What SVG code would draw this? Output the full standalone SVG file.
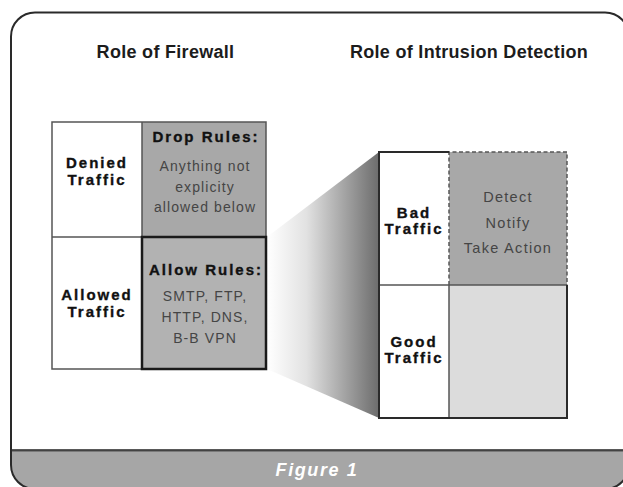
<svg xmlns="http://www.w3.org/2000/svg" width="623" height="487" viewBox="0 0 623 487">
  <defs>
    <style>
      .title { font-family: "Liberation Sans", Arial, sans-serif; font-size: 18px; font-weight: bold; fill: #1c1c1c; text-anchor: middle; letter-spacing: 0.3px; }
      .label { font-family: "Liberation Sans", Arial, sans-serif; font-size: 15px; font-weight: bold; fill: #111; stroke: #111; stroke-width: 0.35px; text-anchor: middle; letter-spacing: 2px; }
      .note { font-family: "Liberation Sans", Arial, sans-serif; font-size: 14px; fill: #454545; text-anchor: middle; letter-spacing: 1.1px; }
      .note.big { font-size: 14.5px; letter-spacing: 1.3px; }
      .caption { font-family: "Liberation Sans", Arial, sans-serif; font-size: 18px; font-weight: bold; font-style: italic; fill: #ffffff; text-anchor: middle; letter-spacing: 1.6px; }
      .thin { fill: none; stroke: #555; stroke-width: 1.5; }
      .heavy { fill: none; stroke: #1a1a1a; stroke-width: 2.5; }
      .dash { fill: none; stroke: #555; stroke-width: 1.5; stroke-dasharray: 4 2.5; }
    </style>
    <clipPath id="frameClip">
      <rect x="11" y="12.5" width="618" height="476.5" rx="24" ry="24"/>
    </clipPath>
    <linearGradient id="zoomShade" x1="0" y1="0" x2="1" y2="0">
      <stop offset="0" stop-color="#ffffff"/>
      <stop offset="0.35" stop-color="#e2e2e2"/>
      <stop offset="1" stop-color="#6c6c6c"/>
    </linearGradient>
  </defs>

  <!-- outer frame with grey caption strip -->
  <g id="frame">
    <rect x="11" y="12.5" width="618" height="476.5" rx="24" ry="24" fill="#ffffff"/>
    <rect x="0" y="450" width="640" height="50" fill="#a6a6a6" clip-path="url(#frameClip)"/>
    <line x1="11" y1="451.5" x2="629" y2="451.5" stroke="#7a7a7a" stroke-width="1"/>
    <line x1="11" y1="450" x2="629" y2="450" stroke="#222" stroke-width="1.6"/>
    <rect x="11" y="12.5" width="618" height="476.5" rx="24" ry="24" fill="none" stroke="#2a2a2a" stroke-width="2"/>
    <text class="caption" x="317" y="476">Figure 1</text>
  </g>

  <!-- column headings -->
  <g id="headings">
    <text class="title" x="165.5" y="57.5">Role of Firewall</text>
    <text class="title" x="469" y="57.5">Role of Intrusion Detection</text>
  </g>

  <!-- magnification wedge from the allow cell to the IDS box -->
  <g id="connectors">
    <polygon points="267,237 379,152 379,418 267,369" fill="url(#zoomShade)"/>
  </g>

  <!-- firewall table -->
  <g id="firewall">
    <rect x="52" y="122" width="90" height="247" fill="#ffffff"/>
    <rect x="142" y="122" width="124" height="115" fill="#a8a8a8"/>
    <rect x="142" y="237" width="124" height="132" fill="#b2b2b2"/>
    <rect class="thin" x="52" y="122" width="214" height="247"/>
    <line class="thin" x1="142" y1="122" x2="142" y2="237"/>
    <line class="thin" x1="52" y1="237" x2="142" y2="237"/>
    <rect class="heavy" x="142" y="237" width="124" height="132"/>
  </g>

  <g id="denied-traffic">
    <text class="label" x="97" y="168">Denied</text>
    <text class="label" x="97" y="185">Traffic</text>
  </g>

  <g id="drop-rules">
    <text class="label" x="206" y="142">Drop Rules:</text>
    <text class="note" x="205" y="171">Anything not</text>
    <text class="note" x="205" y="191.5">explicity</text>
    <text class="note" x="205" y="212">allowed below</text>
  </g>

  <g id="allowed-traffic">
    <text class="label" x="97" y="300">Allowed</text>
    <text class="label" x="97" y="317">Traffic</text>
  </g>

  <g id="allow-rules">
    <text class="label" x="206" y="275">Allow Rules:</text>
    <text class="note" x="205" y="301">SMTP, FTP,</text>
    <text class="note" x="205" y="322">HTTP, DNS,</text>
    <text class="note" x="205" y="343">B-B VPN</text>
  </g>

  <!-- intrusion detection table -->
  <g id="intrusion-detection">
    <rect x="379" y="152" width="70" height="266" fill="#ffffff"/>
    <rect x="449" y="152" width="118" height="133" fill="#a8a8a8"/>
    <rect x="449" y="285" width="118" height="133" fill="#dcdcdc"/>
    <line class="thin" x1="379" y1="285" x2="567" y2="285"/>
    <line class="thin" x1="449" y1="285" x2="449" y2="418"/>
    <path class="dash" d="M449,285 V152 H567 V285"/>
    <path d="M449,152 H379 V418 H567 V285" fill="none" stroke="#2a2a2a" stroke-width="2"/>
  </g>

  <g id="bad-traffic">
    <text class="label" x="414" y="218">Bad</text>
    <text class="label" x="414" y="234">Traffic</text>
  </g>

  <g id="ids-actions">
    <text class="note big" x="508" y="202">Detect</text>
    <text class="note big" x="508" y="228">Notify</text>
    <text class="note big" x="508" y="253">Take Action</text>
  </g>

  <g id="good-traffic">
    <text class="label" x="414" y="347">Good</text>
    <text class="label" x="414" y="363">Traffic</text>
  </g>
</svg>
